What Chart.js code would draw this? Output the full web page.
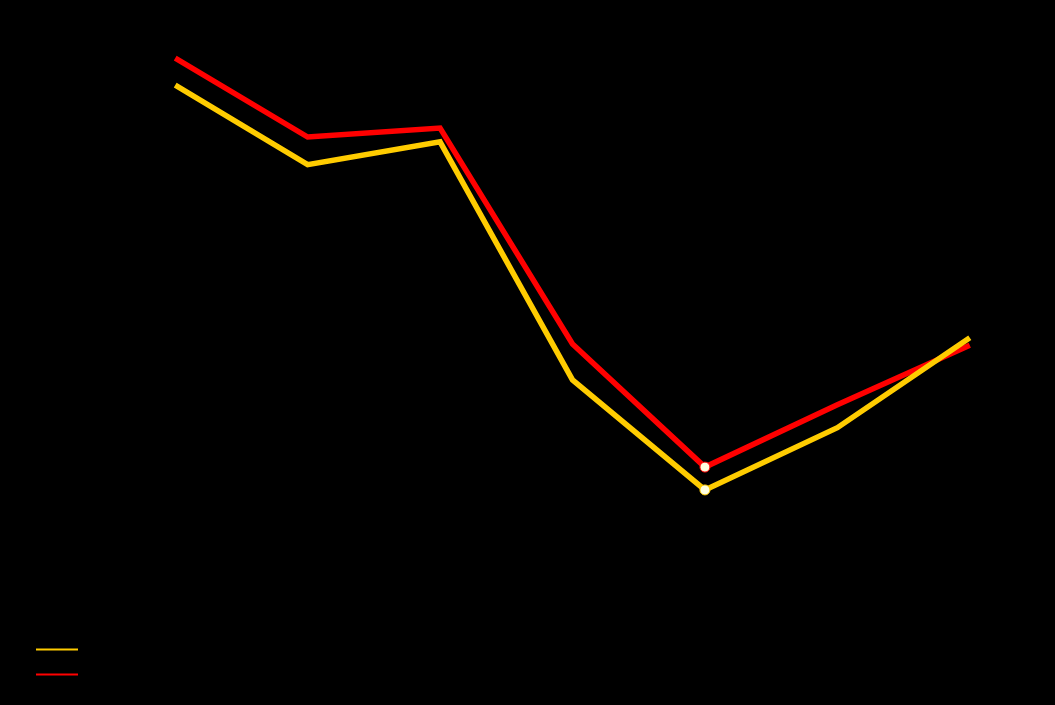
<!DOCTYPE html>
<html>
<head>
<meta charset="utf-8">
<script src="https://cdn.jsdelivr.net/npm/chart.js@4/dist/chart.umd.min.js"></script>
<style>
  html, body { margin: 0; padding: 0; background: #000; }
  #wrap { width: 1055px; height: 705px; position: relative; }
</style>
</head>
<body>
<div id="wrap"><canvas id="chart"></canvas></div>
<script>
// Chart data
const categories = ['1', '2', '3', '4', '5', '6', '7'];
const seriesNames = ['Series A', 'Series B'];
const yellowValues = [87.7, 76.2, 79.5, 45.1, 29.2, 38.2, 51.2];
const redValues = [91.6, 80.2, 81.5, 50.3, 32.5, 41.5, 50.1];
const markerRadius = [0, 0, 0, 0, 5, 0, 0];

const colors = ['#ffcc00', '#ff0000'];

new Chart(document.getElementById('chart'), {
    type: 'line',
    data: {
        labels: categories,
        datasets: [
            {
                label: seriesNames[0],
                data: yellowValues,
                borderColor: colors[0],
                backgroundColor: colors[0],
                borderWidth: 5.5,
                borderJoinStyle: 'miter',
                pointRadius: markerRadius,
                pointBackgroundColor: '#ffffe0',
                pointBorderColor: colors[0],
                pointBorderWidth: 1,
                tension: 0
            },
            {
                label: seriesNames[1],
                data: redValues,
                borderColor: colors[1],
                backgroundColor: colors[1],
                borderWidth: 5.5,
                borderJoinStyle: 'miter',
                pointRadius: markerRadius,
                pointBackgroundColor: '#ffffe0',
                pointBorderColor: colors[1],
                pointBorderWidth: 1,
                tension: 0
            }
        ]
    },
    options: {
        responsive: true,
        maintainAspectRatio: false,
        animation: false,
        layout: { padding: { left: 26, right: 19, top: 0, bottom: 13 } },
        scales: {
            x: { display: false, offset: true },
            y: { display: false, min: 0, max: 100 }
        },
        plugins: {
            tooltip: { enabled: false },
            legend: {
                position: 'left',
                align: 'end',
                maxWidth: 83,
                labels: {
                    color: '#000',
                    font: { size: 15 },
                    usePointStyle: true,
                    pointStyleWidth: 42,
                    padding: 10,
                    generateLabels: (chart) => chart.data.datasets.map((ds, i) => ({
                        text: ds.label,
                        fillStyle: ds.borderColor,
                        strokeStyle: ds.borderColor,
                        lineWidth: 2,
                        pointStyle: 'line',
                        fontColor: '#000',
                        datasetIndex: i,
                        hidden: false
                    }))
                }
            }
        }
    }
});
</script>
</body>
</html>
